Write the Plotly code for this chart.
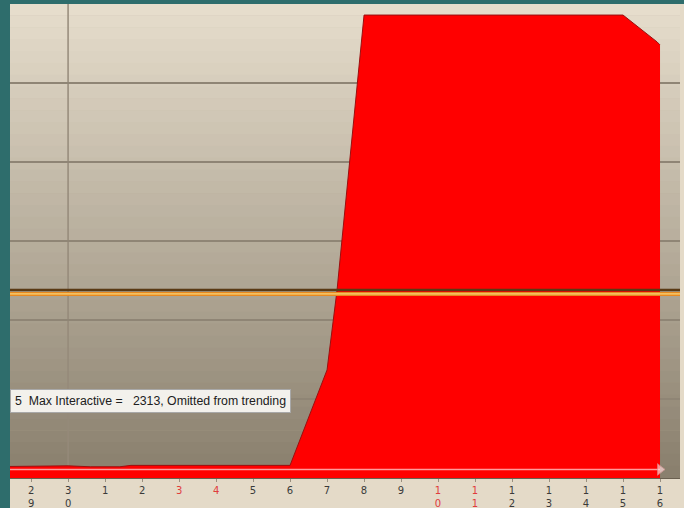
import plotly.graph_objects as go

# day labels along the x axis (weekend days shown in red)
day_labels = ['29', '30', '1', '2', '3', '4', '5', '6', '7', '8', '9', '10', '11', '12', '13', '14', '15', '16']
weekend_days = ['3', '4', '10', '11']

# sampled usage positions (day index) and values
usage_x = [-0.6, 0, 0.24, 1, 1.6, 2.4, 2.7, 3, 4, 5, 6, 7, 8, 8.27, 9, 10, 11, 12, 13, 14, 15, 16, 16.92, 17]
usage_y = [73, 73, 77, 77, 71, 71, 80, 80, 80, 80, 80, 80, 684, 1190, 2930, 2930, 2930, 2930, 2930, 2930, 2930, 2930, 2760, 2741]

threshold_value = 54
band_dark = 1190
band_orange = 1165
note_text = '5&nbsp; Max Interactive = &nbsp; 2313, Omitted from trending'

ticktext = []
for d in day_labels:
    if d in weekend_days:
        s = '<br>'.join('<span style="color:#e03c3c">%s</span>' % ch for ch in d)
    else:
        s = '<br>'.join(list(d))
    ticktext.append(s)

fig = go.Figure()

fig.add_trace(go.Scatter(
    x=usage_x, y=usage_y, mode='lines', fill='tozeroy',
    line=dict(color='#9a1010', width=1), fillcolor='#ff0000',
    hoverinfo='skip', showlegend=False
))

fig.add_trace(go.Scatter(
    x=[-0.6, 17], y=[threshold_value, threshold_value], mode='lines+markers',
    line=dict(color='#ff9c9c', width=1.5),
    marker=dict(symbol='triangle-right', size=[0, 10], color='#ffd8d8',
                line=dict(color='#e0a0a0', width=1)),
    hoverinfo='skip', showlegend=False
))

# background gradient inside the plot area
steps = 40
top = (230, 221, 204)
bot = (138, 128, 110)
shapes = []
for i in range(steps):
    t = i / (steps - 1)
    c = tuple(int(top[k] + (bot[k] - top[k]) * t) for k in range(3))
    shapes.append(dict(type='rect', xref='x domain', yref='y domain',
                       x0=0, x1=1, y0=1 - (i + 1) / steps, y1=1 - i / steps + 0.001,
                       fillcolor='rgb(%d,%d,%d)' % c, line=dict(width=0), layer='below'))

# vertical day separator
shapes.append(dict(type='line', xref='x', yref='y domain', x0=1, x1=1, y0=0, y1=1,
                   line=dict(color='#958a7a', width=1.5), layer='below'))
# reference bands
shapes.append(dict(type='line', xref='x domain', yref='y', x0=0, x1=1, y0=band_dark, y1=band_dark,
                   line=dict(color='#5a3a14', width=2.5)))
shapes.append(dict(type='line', xref='x domain', yref='y', x0=0, x1=1, y0=band_orange, y1=band_orange,
                   line=dict(color='#e88a20', width=4)))
shapes.append(dict(type='line', xref='x domain', yref='y', x0=0, x1=1, y0=band_orange, y1=band_orange,
                   line=dict(color='#ffe890', width=1)))
# teal frame
shapes.append(dict(type='rect', xref='paper', yref='paper', x0=-0.02, x1=0, y0=-0.1, y1=1.1,
                   fillcolor='#2e6d6c', line=dict(width=0)))
shapes.append(dict(type='rect', xref='paper', yref='paper', x0=-0.02, x1=1.02, y0=1, y1=1.03,
                   fillcolor='#2e6d6c', line=dict(width=0)))

fig.update_layout(
    width=684, height=508,
    margin=dict(l=10, r=4, t=4, b=30),
    paper_bgcolor='#e4dac8',
    plot_bgcolor='#b8ae9b',
    shapes=shapes,
    xaxis=dict(
        range=[-0.57, 17.54], tickmode='array', tickvals=list(range(len(day_labels))),
        ticktext=ticktext, showgrid=False, zeroline=False, automargin=False,
        ticks='outside', ticklen=3, tickcolor='#9a9080',
        tickfont=dict(family='DejaVu Sans', size=10, color='#3a3a3a'),
        showline=True, linecolor='#6a6050', linewidth=1,
    ),
    yaxis=dict(
        range=[0, 3000], dtick=500, showticklabels=False, zeroline=False, automargin=False,
        showgrid=True, gridcolor='#8f8575', gridwidth=1.5,
    ),
    annotations=[dict(
        text=note_text, xref='paper', x=0, xanchor='left', yref='y', y=487, yanchor='middle',
        showarrow=False, bgcolor='#f3f1ec', bordercolor='#a8a8a8', borderwidth=1, borderpad=4,
        font=dict(family='Liberation Sans', size=12.3, color='#202020'),
    )],
)

fig.write_html('out.html', config={'displayModeBar': False},
               post_script="document.body.style.margin='0px';")
